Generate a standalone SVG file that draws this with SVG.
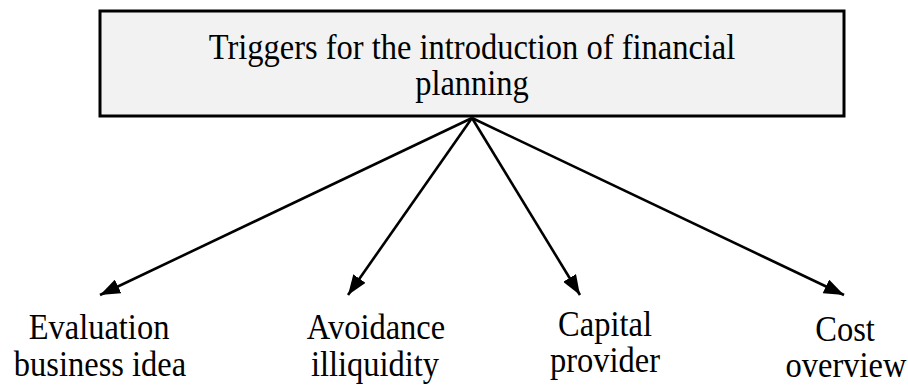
<svg xmlns="http://www.w3.org/2000/svg" width="908" height="385" viewBox="0 0 908 385">
  <style>
    .t { font-family: "Liberation Serif", "Times New Roman", serif; font-size: 32.5px; fill: #000; text-anchor: middle; }
    .box { fill: #f2f2f2; stroke: #000; stroke-width: 3; }
    .conn { stroke: #000; stroke-width: 2.6; fill: none; marker-end: url(#arrow); }
  </style>
  <defs>
    <marker id="arrow" viewBox="0 0 20 15" refX="20" refY="7.5" markerWidth="20" markerHeight="15" markerUnits="userSpaceOnUse" orient="auto">
      <path d="M0,0 L20,7.5 L0,15 z" fill="#000"/>
    </marker>
  </defs>
  <g id="root">
    <rect class="box" x="100" y="11" width="744" height="105"/>
    <text class="t" transform="translate(472,59) scale(1,1.07)">Triggers for the introduction of financial</text>
    <text class="t" transform="translate(472,95) scale(1,1.07)">planning</text>
  </g>
  <g id="connectors">
    <line class="conn" x1="472" y1="118" x2="100" y2="295"/>
    <line class="conn" x1="472" y1="118" x2="348" y2="295"/>
    <line class="conn" x1="472" y1="118" x2="580" y2="295"/>
    <line class="conn" x1="472" y1="118" x2="844" y2="295"/>
  </g>
  <g id="evaluation">
    <text class="t" transform="translate(99,339) scale(1,1.07)">Evaluation</text>
    <text class="t" transform="translate(100,376) scale(1,1.07)">business idea</text>
  </g>
  <g id="avoidance">
    <text class="t" transform="translate(376,339) scale(1,1.07)">Avoidance</text>
    <text class="t" transform="translate(375,376) scale(1,1.07)">illiquidity</text>
  </g>
  <g id="capital">
    <text class="t" transform="translate(605,336) scale(1,1.07)">Capital</text>
    <text class="t" transform="translate(605,372) scale(1,1.07)">provider</text>
  </g>
  <g id="cost">
    <text class="t" transform="translate(845,341) scale(1,1.07)">Cost</text>
    <text class="t" transform="translate(846,377) scale(1,1.07)">overview</text>
  </g>
</svg>
